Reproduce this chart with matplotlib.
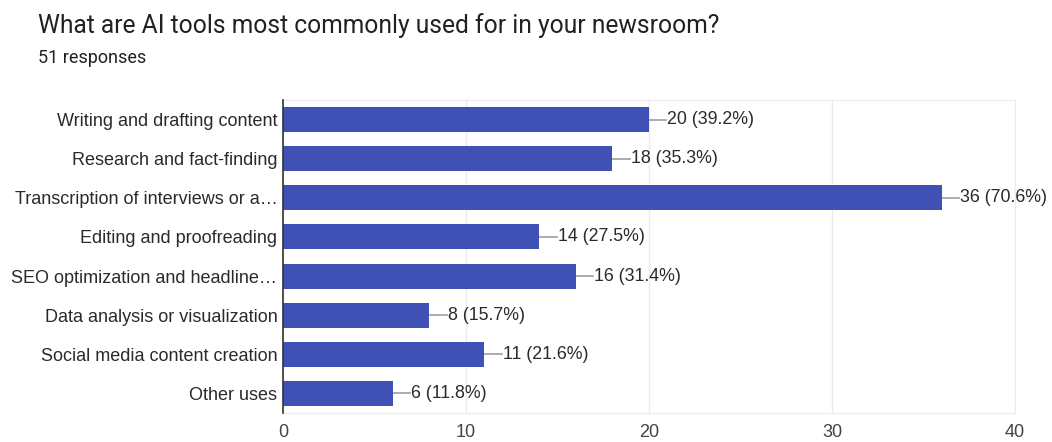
import matplotlib
matplotlib.use("Agg")
import matplotlib.pyplot as plt

plt.rcParams['font.family'] = ['Liberation Sans', 'DejaVu Sans']

categories = ["Writing and drafting content", "Research and fact-finding",
              "Transcription of interviews or a\u2026", "Editing and proofreading",
              "SEO optimization and headline\u2026", "Data analysis or visualization",
              "Social media content creation", "Other uses"]
counts = [20, 18, 36, 14, 16, 8, 11, 6]
percents = [39.2, 35.3, 70.6, 27.5, 31.4, 15.7, 21.6, 11.8]
x_ticks = [0, 10, 20, 30, 40]

fig = plt.figure(figsize=(10.52, 4.42), dpi=100)
ax = fig.add_axes([0.269, 0.0656, 0.696, 0.708])

y = list(range(len(categories)))
ax.barh(y, counts, height=0.64, color="#3f51b5", zorder=3)

# value labels with a short leader line
for yi, c, p in zip(y, counts, percents):
    ax.plot([c, c + 0.95], [yi, yi], color="#9e9e9e", lw=1.2, zorder=2)
    ax.text(c + 1.0, yi, f"{c} ({p}%)", va="center", ha="left",
            fontsize=12.8, color="#2a2a2a")

ax.set_xlim(0, 40)
ax.set_ylim(len(categories) - 0.5, -0.5)
ax.set_xticks(x_ticks)
ax.set_yticks(y)
ax.set_yticklabels(categories, fontsize=13, color="#2a2a2a")
ax.tick_params(axis="x", labelsize=13, colors="#444444", length=0, pad=8)
ax.tick_params(axis="y", length=0, pad=4)
ax.grid(axis="x", color="#ebebeb", lw=1, zorder=0)

for side in ["top", "bottom", "right"]:
    ax.spines[side].set_color("#ebebeb")
ax.spines["left"].set_color("#333333")
ax.spines["left"].set_linewidth(1.2)
ax.spines["left"].set_zorder(4)

fig.text(0.036, 0.925, "What are AI tools most commonly used for in your newsroom?",
         fontsize=17.75, color="#202124", va="baseline", family=["Roboto", "DejaVu Sans"])
fig.text(0.036, 0.857, "51 responses", fontsize=13, color="#202124", va="baseline",
         family=["Roboto", "DejaVu Sans"])

fig.savefig("out.png", dpi=100)
